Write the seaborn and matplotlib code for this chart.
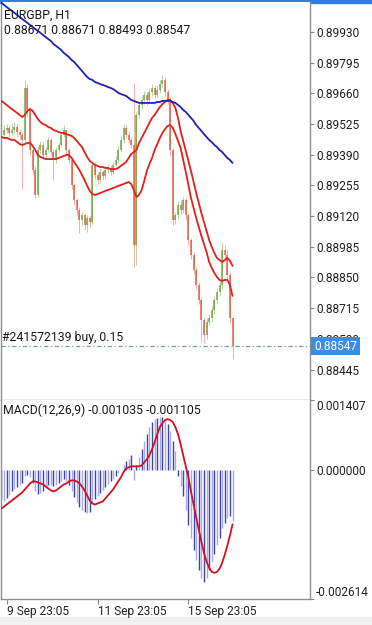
import numpy as np
import matplotlib
matplotlib.use("Agg")
import matplotlib.pyplot as plt
from matplotlib.patches import Rectangle
import seaborn as sns

# ---------------- data (prices in 1e-5 units, MACD in 1e-6 units) ----------------
open_pts = [89480,89477,89499,89508,89486,89499,89512,89490,89477,89455,
            89684,89587,89411,89323,89213,89411,89433,89389,89411,89455,
            89402,89367,89411,89433,89477,89499,89411,89367,89257,89191,
            89147,89103,89125,89081,89112,89094,89345,89301,89279,89314,
            89296,89323,89332,89314,89345,89367,89411,89455,89508,89477,
            89455,89433,88993,89565,89609,89631,89653,89631,89666,89684,
            89653,89675,89701,89719,89666,89631,89411,89103,89125,89169,
            89147,89191,89125,89015,88949,88883,88817,88751,88663,88597,
            88654,88671,88707,88751,88786,88817,88971,88949,88861,88671]
close_pts = [89477,89499,89508,89486,89499,89512,89490,89477,89455,89684,
             89587,89411,89323,89213,89411,89433,89389,89411,89455,89402,
             89367,89411,89433,89477,89499,89411,89367,89257,89191,89147,
             89103,89125,89081,89112,89094,89345,89301,89279,89314,89296,
             89323,89332,89314,89345,89367,89411,89455,89508,89477,89455,
             89433,88993,89565,89609,89631,89653,89631,89666,89684,89653,
             89675,89701,89719,89666,89631,89411,89103,89125,89169,89147,
             89191,89125,89015,88949,88883,88817,88751,88663,88597,88654,
             88671,88707,88751,88786,88817,88971,88949,88861,88671,88547]
high_pts = [89500,89520,89525,89520,89530,89535,89525,89505,89490,89720,
            89700,89600,89430,89340,89430,89450,89445,89425,89470,89465,
            89415,89425,89445,89490,89520,89505,89420,89375,89265,89200,
            89160,89140,89135,89125,89120,89360,89360,89315,89330,89325,
            89340,89350,89345,89360,89385,89430,89475,89525,89520,89490,
            89465,89706,89580,89625,89650,89670,89665,89685,89700,89695,
            89695,89720,89741,89730,89680,89645,89420,89140,89185,89190,
            89205,89200,89135,89025,88960,88895,88830,88765,88675,88670,
            88690,88725,88770,88805,88840,89006,88995,88975,88875,88671]
low_pts = [89455,89460,89485,89470,89475,89480,89470,89460,89240,89440,
           89560,89390,89300,89200,89205,89395,89370,89375,89400,89390,
           89280,89355,89400,89425,89470,89395,89350,89240,89170,89125,
           89046,89080,89060,89050,89070,89085,89285,89260,89265,89280,
           89285,89310,89300,89305,89335,89355,89400,89440,89465,89440,
           89420,88896,88905,89550,89590,89615,89610,89620,89650,89640,
           89640,89660,89690,89650,89615,89390,89080,89085,89110,89130,
           89135,89105,88995,88930,88865,88800,88735,88565,88560,88580,
           88640,88655,88690,88735,88770,88800,88930,88840,88650,88493]
upper_ma_pts = [89627,89618,89609,89600,89591,89583,89574,89565,89556,89565,
                89583,89591,89583,89565,89547,89534,89525,89521,89512,89508,
                89499,89495,89490,89486,89486,89481,89477,89473,89464,89451,
                89437,89424,89402,89380,89363,89354,89345,89341,89336,89336,
                89332,89332,89327,89327,89327,89332,89341,89349,89358,89376,
                89393,89402,89411,89442,89464,89486,89508,89530,89552,89565,
                89583,89600,89613,89622,89631,89631,89618,89596,89552,89495,
                89451,89407,89363,89319,89270,89222,89178,89134,89094,89055,
                89015,88984,88958,88936,88927,88918,88927,88936,88923,88901]
lower_ma_pts = [89468,89464,89464,89459,89455,89455,89446,89437,89433,89437,
                89442,89442,89429,89411,89389,89380,89376,89371,89371,89371,
                89371,89371,89376,89380,89385,89389,89389,89376,89358,89341,
                89323,89301,89279,89253,89231,89217,89213,89217,89222,89226,
                89231,89235,89239,89244,89248,89253,89257,89261,89266,89270,
                89261,89235,89204,89213,89235,89275,89319,89349,89376,89411,
                89437,89464,89486,89503,89517,89521,89508,89481,89451,89420,
                89367,89314,89257,89200,89156,89112,89072,89033,88997,88962,
                88918,88892,88870,88852,88839,88835,88839,88839,88817,88769]
slow_ma_pts = [90058,90049,90040,90031,90023,90014,90005,89996,89987,89979,
               89970,89961,89952,89943,89935,89926,89917,89908,89899,89891,
               89877,89869,89860,89851,89838,89829,89820,89807,89798,89785,
               89772,89759,89745,89732,89723,89719,89710,89706,89701,89697,
               89693,89688,89684,89679,89671,89662,89657,89653,89649,89640,
               89631,89627,89622,89618,89618,89618,89618,89618,89618,89618,
               89622,89622,89627,89627,89627,89627,89622,89618,89609,89600,
               89587,89578,89565,89552,89539,89521,89508,89495,89481,89468,
               89455,89446,89433,89424,89411,89402,89389,89376,89367,89354]
macd_main_u = [-603,-624,-583,-522,-441,-400,-359,-319,-278,-136,
               -116,-156,-278,-441,-502,-481,-441,-380,-319,-319,
               -339,-319,-278,-238,-197,-238,-319,-441,-563,-664,
               -745,-806,-847,-867,-847,-684,-603,-542,-481,-420,
               -359,-299,-238,-197,-136,-75,-14,87,169,209,
               290,-217,87,250,412,575,717,859,961,1022,
               1042,1062,1062,1022,920,778,575,372,-136,-339,
               -542,-806,-1111,-1375,-1619,-1822,-2025,-2187,-2269,-2187,
               -2025,-1862,-1700,-1517,-1375,-1172,-1070,-969,-928,-1035]
macd_signal_u = [-786,-745,-705,-664,-624,-583,-542,-502,-461,-400,
                 -339,-278,-238,-238,-258,-278,-299,-339,-380,-420,
                 -441,-420,-380,-339,-299,-278,-238,-217,-217,-238,
                 -278,-339,-420,-522,-624,-684,-705,-684,-664,-644,
                 -583,-522,-461,-400,-319,-238,-156,-55,26,47,
                 67,67,67,67,87,148,209,290,412,554,
                 717,859,940,1001,1022,1001,961,859,717,514,
                 290,67,-156,-441,-705,-969,-1212,-1456,-1680,-1862,
                 -1984,-2066,-2086,-2066,-2005,-1883,-1720,-1537,-1334,-1105]
price_ticks = [0.89930, 0.89795, 0.89660, 0.89525, 0.89390, 0.89255, 0.89120,
               0.88985, 0.88850, 0.88715, 0.88580, 0.88445]
macd_ticks = [0.001407, 0.0, -0.002614]
macd_tick_labels = ["0.001407", "0.000000", "-0.002614"]
time_tick_bars = [2, 37, 72]
time_tick_labels = ["9 Sep 23:05", "11 Sep 23:05", "15 Sep 23:05"]
symbol_title = "EURGBP, H1"
ohlc_title = "0.88671 0.88671 0.88493 0.88547"
order_label = "#241572139 buy, 0.15"
macd_title = "MACD(12,26,9) -0.001035 -0.001105"

# ---------------- prepare ----------------
o = np.array(open_pts) / 1e5
c = np.array(close_pts) / 1e5
h = np.array(high_pts) / 1e5
l = np.array(low_pts) / 1e5
upper = np.array(upper_ma_pts) / 1e5
lower = np.array(lower_ma_pts) / 1e5
slow = np.array(slow_ma_pts) / 1e5
macd = np.array(macd_main_u) / 1e6
sig = np.array(macd_signal_u) / 1e6
idx = np.arange(len(c))

sns.set_theme(style="white")
plt.rcParams["font.family"] = ["Roboto", "DejaVu Sans"]

W, H = 372, 625
fig = plt.figure(figsize=(W / 100, H / 100), dpi=100)
fig.patch.set_facecolor("white")


def rect(left, top, right, bottom):
    return [left / W, 1 - bottom / H, (right - left) / W, (bottom - top) / H]


ax = fig.add_axes(rect(0.5, 2, 310, 400))
mx = fig.add_axes(rect(0.5, 400, 310, 599))

# top blue strip and bottom grey strip
fig.patches.append(Rectangle((0, 1 - 2.5 / H), 1, 2.5 / H, transform=fig.transFigure,
                             color="#2f7fdc", zorder=-1))
fig.patches.append(Rectangle((0, 0), 1, 8 / H, transform=fig.transFigure,
                             color="#f1f1f1", zorder=-1))

BULL = "#5b9e2c"
BEAR = "#e6452f"
up = c >= o
col = np.where(up, BULL, BEAR)

# candles
ax.vlines(idx, l, h, colors=col, linewidth=0.55, alpha=0.55, zorder=2)
ax.vlines(idx, np.minimum(o, c), np.maximum(o, c), colors=col, linewidth=1.1,
          alpha=0.85, zorder=2.2)

# moving averages
sns.lineplot(x=idx, y=upper, ax=ax, color="#e3201b", linewidth=1.3, zorder=4)
sns.lineplot(x=idx, y=lower, ax=ax, color="#e3201b", linewidth=1.3, zorder=4)
sns.lineplot(x=idx, y=slow, ax=ax, color="#1d22b4", linewidth=1.3, zorder=4)

# position line
ax.axhline(c[-1], color="#6d9fc2", linewidth=0.9, linestyle=(0, (3.5, 2, 1, 2)), zorder=3)

x_left = (0 - 1) / 2.6
x_right = (310 - 1) / 2.6
ax.set_xlim(x_left, x_right)
ax.set_ylim(0.88311, 0.90062)
ax.set_xticks([])
ax.set_xlabel("")
ax.set_ylabel("")
ax.yaxis.tick_right()
ax.set_yticks(price_ticks)
ax.set_yticklabels([f"{v:.5f}" for v in price_ticks])
ax.tick_params(axis="y", which="both", right=True, left=False, direction="out",
               length=3, width=0.8, color="#8a8a8a", pad=1.5, labelsize=8.6,
               labelcolor="#222222")
for s in ["left", "right", "bottom"]:
    ax.spines[s].set_visible(True)
    ax.spines[s].set_color("#8f8f8f")
    ax.spines[s].set_linewidth(1.0)
ax.spines["top"].set_visible(False)

# current price box
ax.text(1.0 + 4 / 310, c[-1], f"{c[-1]:.5f}", transform=ax.get_yaxis_transform(),
        ha="left", va="center", color="white", fontsize=8.6, zorder=10, clip_on=False,
        bbox=dict(boxstyle="square,pad=0.22", fc="#3a8ee6", ec="none"))

# MACD panel
bar_cols = np.where(idx % 2 == 0, "#3e43ad", "#a8aae8")
mx.vlines(idx, 0, macd, colors=bar_cols, linewidth=1.0, zorder=2)
sns.lineplot(x=idx, y=sig, ax=mx, color="#d4101f", linewidth=1.3, zorder=4)
mx.set_xlim(x_left, x_right)
mx.set_ylim(-0.002614, 0.001407)
mx.set_xlabel("")
mx.set_ylabel("")
mx.yaxis.tick_right()
mx.set_yticks(macd_ticks)
mx.set_yticklabels(macd_tick_labels)
mx.tick_params(axis="y", right=True, left=False, direction="out", length=3, width=0.8,
               color="#8a8a8a", pad=1.5, labelsize=8.6, labelcolor="#222222")
ylabs = mx.get_yticklabels()
ylabs[0].set_verticalalignment("top")
ylabs[2].set_verticalalignment("bottom")
mx.set_xticks(time_tick_bars)
mx.set_xticklabels(time_tick_labels, ha="left")
mx.tick_params(axis="x", bottom=True, direction="out", length=3.5, width=0.8,
               color="#8a8a8a", pad=1.0, labelsize=8.6, labelcolor="#222222")
for s in ["left", "right", "bottom"]:
    mx.spines[s].set_visible(True)
    mx.spines[s].set_color("#8f8f8f")
    mx.spines[s].set_linewidth(1.0)
mx.spines["top"].set_visible(False)

# texts
fig.text(4 / W, 1 - 15 / H, symbol_title, ha="left", va="center", fontsize=8.8, color="#1a1a1a")
fig.text(4 / W, 1 - 30 / H, ohlc_title, ha="left", va="center", fontsize=8.8, color="#1a1a1a")
fig.text(2 / W, 1 - 337 / H, order_label, ha="left", va="center", fontsize=8.8, color="#1a1a1a")
fig.text(3 / W, 1 - 410 / H, macd_title, ha="left", va="center", fontsize=8.8, color="#1a1a1a")

fig.savefig("out.png", dpi=100)
